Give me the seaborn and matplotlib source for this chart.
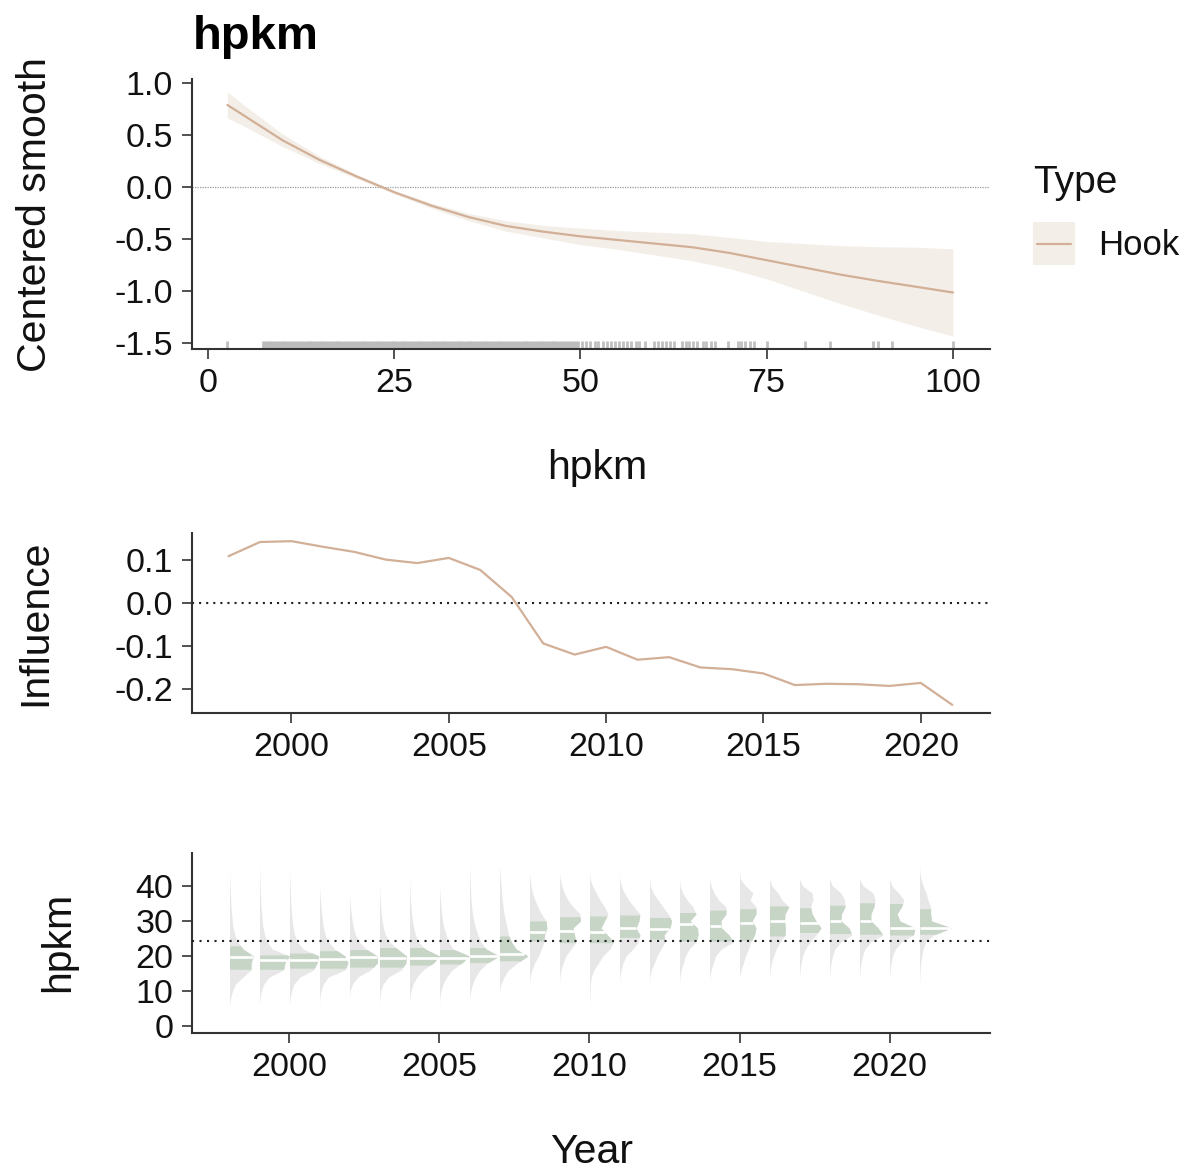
import numpy as np
import pandas as pd
import matplotlib
matplotlib.use("Agg")
import matplotlib.pyplot as plt
from matplotlib.patches import Rectangle
from matplotlib.lines import Line2D
import seaborn as sns

# ---- Partial effect of hpkm (centered smooth with confidence band) ----
smooth_hpkm = [2.6, 5, 10, 15, 20, 25, 30, 35, 40, 45, 50, 55, 60, 65, 70, 75, 80, 85, 90, 95, 100]
smooth_fit = [0.79, 0.68, 0.45, 0.26, 0.10, -0.05, -0.18, -0.29, -0.375, -0.43, -0.475,
              -0.51, -0.545, -0.58, -0.635, -0.705, -0.775, -0.845, -0.905, -0.96, -1.016]
smooth_upper = [0.915, 0.78, 0.51, 0.295, 0.12, -0.035, -0.155, -0.255, -0.325, -0.37, -0.395,
                -0.42, -0.435, -0.45, -0.485, -0.525, -0.545, -0.565, -0.575, -0.58, -0.596]
smooth_lower = [0.665, 0.58, 0.39, 0.225, 0.08, -0.065, -0.205, -0.325, -0.425, -0.49, -0.555,
                -0.60, -0.655, -0.71, -0.785, -0.885, -1.005, -1.125, -1.235, -1.34, -1.436]

# observed hpkm values shown as a rug (dense core and scattered upper values)
rug_dense = [7.5, 8.0, 8.5, 9.0, 9.5, 10.0, 10.5, 11.0, 11.5, 12.0, 12.5, 13.0, 13.5, 14.0,
             14.5, 15.0, 15.5, 16.0, 16.5, 17.0, 17.5, 18.0, 18.5, 19.0, 19.5, 20.0, 20.5,
             21.0, 21.5, 22.0, 22.5, 23.0, 23.5, 24.0, 24.5, 25.0, 25.5, 26.0, 26.5, 27.0,
             27.5, 28.0, 28.5, 29.0, 29.5, 30.0, 30.5, 31.0, 31.5, 32.0, 32.5, 33.0, 33.5,
             34.0, 34.5, 35.0, 35.5, 36.0, 36.5, 37.0, 37.5, 38.0, 38.5, 39.0, 39.5, 40.0,
             40.5, 41.0, 41.5, 42.0, 42.5, 43.0, 43.5, 44.0, 44.5, 45.0, 45.5, 46.0, 46.5,
             47.0, 47.5, 48.0, 48.5, 49.0, 49.5]
rug_sparse = [2.6, 50.2, 50.8, 51.3, 51.9, 52.4, 53.0, 53.5, 54.1, 54.6, 55.2, 55.7, 56.3,
              56.8, 57.4, 57.9, 58.6, 59.9, 60.4, 60.9, 61.5, 62.0, 62.6, 63.6, 64.1, 64.6,
              65.1, 65.6, 66.4, 66.8, 67.5, 68.0, 69.8, 71.2, 71.6, 72.1, 72.8, 73.3, 75.0,
              80.2, 83.5, 89.3, 90.0, 91.8, 100.0]

# ---- Influence of hpkm by year ----
years = list(range(1998, 2022))
influence = [0.110, 0.143, 0.145, 0.132, 0.120, 0.102, 0.094, 0.106, 0.078, 0.015,
             -0.093, -0.119, -0.101, -0.131, -0.125, -0.149, -0.153, -0.163, -0.190,
             -0.187, -0.188, -0.192, -0.185, -0.236]

# ---- Distribution of hpkm by year (half-violin widths, in years) ----
density_hpkm = [6, 8, 10, 12, 14, 16, 18, 20, 22, 24, 26, 28, 30, 32, 34, 36, 38, 40, 42, 44, 46]
density_width = [
    [0, 0.04, 0.10, 0.20, 0.45, 0.72, 0.72, 0.80, 0.45, 0.28, 0.18, 0.12, 0.09, 0.07, 0.05, 0.04, 0.03, 0.02, 0.01, 0, 0],
    [0, 0.02, 0.06, 0.15, 0.33, 0.80, 0.85, 1.00, 0.42, 0.26, 0.17, 0.12, 0.09, 0.07, 0.05, 0.04, 0.03, 0.02, 0.015, 0.01, 0],
    [0, 0.02, 0.07, 0.15, 0.35, 0.80, 0.92, 0.98, 0.45, 0.27, 0.17, 0.12, 0.09, 0.07, 0.05, 0.04, 0.03, 0.02, 0.01, 0, 0],
    [0, 0.01, 0.05, 0.13, 0.30, 0.85, 0.95, 0.85, 0.50, 0.30, 0.19, 0.13, 0.10, 0.07, 0.05, 0.03, 0.01, 0, 0, 0, 0],
    [0, 0, 0.02, 0.10, 0.28, 0.70, 0.93, 0.93, 0.55, 0.32, 0.20, 0.13, 0.09, 0.06, 0.03, 0.01, 0, 0, 0, 0, 0],
    [0, 0.01, 0.04, 0.12, 0.30, 0.72, 0.88, 0.90, 0.60, 0.33, 0.20, 0.13, 0.09, 0.06, 0.04, 0.02, 0.01, 0, 0, 0, 0],
    [0, 0.01, 0.05, 0.12, 0.25, 0.45, 0.80, 1.00, 0.52, 0.30, 0.20, 0.14, 0.10, 0.07, 0.05, 0.03, 0.02, 0.01, 0, 0, 0],
    [0, 0.01, 0.05, 0.12, 0.24, 0.42, 0.75, 1.00, 0.45, 0.30, 0.22, 0.15, 0.10, 0.07, 0.05, 0.03, 0.01, 0, 0, 0, 0],
    [0, 0, 0.04, 0.10, 0.20, 0.35, 0.60, 1.00, 0.55, 0.38, 0.28, 0.20, 0.14, 0.10, 0.07, 0.05, 0.04, 0.03, 0.02, 0.01, 0],
    [0, 0, 0, 0.05, 0.15, 0.30, 0.60, 0.95, 0.55, 0.40, 0.30, 0.25, 0.20, 0.15, 0.12, 0.09, 0.07, 0.05, 0.03, 0.015, 0],
    [0, 0, 0, 0, 0.02, 0.08, 0.17, 0.30, 0.40, 0.48, 0.50, 0.58, 0.55, 0.40, 0.28, 0.18, 0.10, 0.05, 0.02, 0, 0],
    [0, 0, 0, 0, 0.01, 0.05, 0.12, 0.22, 0.38, 0.55, 0.50, 0.45, 0.70, 0.68, 0.45, 0.28, 0.16, 0.08, 0.02, 0, 0],
    [0, 0.01, 0.02, 0.03, 0.06, 0.15, 0.30, 0.45, 0.68, 0.80, 0.60, 0.38, 0.50, 0.62, 0.50, 0.35, 0.22, 0.10, 0.02, 0, 0],
    [0, 0, 0, 0, 0.01, 0.05, 0.12, 0.22, 0.45, 0.62, 0.68, 0.55, 0.65, 0.68, 0.48, 0.30, 0.16, 0.06, 0.01, 0, 0],
    [0, 0, 0, 0, 0.01, 0.06, 0.16, 0.25, 0.38, 0.52, 0.48, 0.68, 0.74, 0.62, 0.45, 0.28, 0.12, 0.03, 0, 0, 0],
    [0, 0, 0, 0, 0.01, 0.06, 0.13, 0.20, 0.32, 0.55, 0.62, 0.60, 0.35, 0.55, 0.45, 0.25, 0.10, 0.02, 0, 0, 0],
    [0, 0, 0, 0, 0.01, 0.05, 0.13, 0.20, 0.40, 0.80, 0.65, 0.40, 0.38, 0.55, 0.55, 0.30, 0.15, 0.05, 0, 0, 0],
    [0, 0, 0, 0, 0, 0.05, 0.13, 0.20, 0.30, 0.38, 0.50, 0.55, 0.42, 0.55, 0.55, 0.35, 0.45, 0.20, 0.03, 0, 0],
    [0, 0, 0, 0, 0, 0.02, 0.06, 0.14, 0.22, 0.36, 0.52, 0.53, 0.50, 0.52, 0.64, 0.42, 0.28, 0.08, 0, 0, 0],
    [0, 0, 0, 0, 0, 0.02, 0.05, 0.10, 0.20, 0.35, 0.55, 0.72, 0.55, 0.42, 0.37, 0.45, 0.42, 0.10, 0, 0, 0],
    [0, 0, 0, 0, 0, 0.02, 0.05, 0.10, 0.18, 0.38, 0.75, 0.65, 0.38, 0.40, 0.52, 0.50, 0.38, 0.10, 0, 0, 0],
    [0, 0, 0, 0, 0, 0.02, 0.05, 0.10, 0.18, 0.38, 0.78, 0.62, 0.38, 0.38, 0.48, 0.52, 0.45, 0.12, 0, 0, 0],
    [0, 0, 0, 0, 0, 0.02, 0.05, 0.10, 0.20, 0.40, 0.80, 0.85, 0.35, 0.25, 0.40, 0.48, 0.30, 0.08, 0, 0, 0],
    [0, 0, 0, 0, 0.01, 0.02, 0.04, 0.08, 0.12, 0.20, 0.48, 1.08, 0.40, 0.37, 0.37, 0.28, 0.22, 0.12, 0.05, 0.01, 0],
]
hpkm_q1 = [16.2, 16.2, 16.5, 16.5, 16.8, 16.8, 17.4, 17.7, 18.1, 18.6, 24.3, 23.8,
           23.8, 25.3, 24.8, 24.3, 24.3, 24.5, 25.7, 26.7, 26.4, 26.2, 26.0, 26.2]
hpkm_median = [19.7, 18.8, 18.9, 19.0, 19.7, 19.5, 19.5, 19.5, 20.0, 20.7, 26.7, 27.1,
               26.9, 28.1, 27.8, 29.1, 28.6, 29.5, 30.0, 29.3, 30.0, 30.0, 27.9, 27.9]
hpkm_q3 = [22.9, 20.3, 20.8, 21.5, 21.8, 22.4, 22.4, 21.8, 22.4, 25.7, 30.0, 31.2,
           31.4, 31.7, 31.0, 32.4, 33.1, 33.5, 34.3, 33.8, 34.5, 35.2, 35.0, 33.5]
hpkm_mean = 24.3

# ---- styling ----
sns.set_theme(style="ticks")
plt.rcParams["font.family"] = ["Liberation Sans", "DejaVu Sans"]

LINE = "#D2AF97"
BAND = "#F4EEE8"
GREY_DIST = "#E7E7E7"
GREEN_IQR = "#C7D5C6"
AXIS = "#333333"

W, H = 1187, 1172
fig = plt.figure(figsize=(W / 100, H / 100), dpi=100)


def px_axes(left, top, right, bottom):
    return fig.add_axes([left / W, 1 - bottom / H, (right - left) / W, (bottom - top) / H])


def style_axes(ax):
    sns.despine(ax=ax)
    for s in ("left", "bottom"):
        ax.spines[s].set_linewidth(1.5)
        ax.spines[s].set_color(AXIS)
    ax.tick_params(length=7.5, width=1.2, color=AXIS, labelsize=24.5,
                   labelcolor="#111111", pad=6)
    ax.set_xlabel("")
    ax.set_ylabel("")
    ax.grid(False)


ax1 = px_axes(192, 79, 990, 349)
ax2 = px_axes(192, 533, 990, 713)
ax3 = px_axes(192, 853, 990, 1033)

# top panel: smooth
smooth_df = pd.DataFrame({"hpkm": smooth_hpkm, "fit": smooth_fit,
                          "lower": smooth_lower, "upper": smooth_upper})
ax1.fill_between(smooth_df["hpkm"], smooth_df["lower"], smooth_df["upper"],
                 color=BAND, linewidth=0, zorder=1)
ax1.axhline(0, color="#9a9a9a", linewidth=0.9, linestyle=(0, (1, 1)), zorder=2)
sns.lineplot(data=smooth_df, x="hpkm", y="fit", ax=ax1, color=LINE, linewidth=1.6, zorder=3)
sns.rugplot(x=rug_dense, ax=ax1, height=0.03, color="#bcbcbc", linewidth=3.3,
            expand_margins=False)
sns.rugplot(x=rug_sparse, ax=ax1, height=0.03, color="#c0c0c0", linewidth=2.0,
            expand_margins=False)
ax1.set_xlim(-2.15, 104.97)
ax1.set_ylim(-1.56, 1.04)
ax1.set_xticks([0, 25, 50, 75, 100])
ax1.set_yticks([1.0, 0.5, 0.0, -0.5, -1.0, -1.5])
ax1.set_yticklabels(["1.0", "0.5", "0.0", "-0.5", "-1.0", "-1.5"])
style_axes(ax1)

# middle panel: influence
infl_df = pd.DataFrame({"Year": years, "Influence": influence})
ax2.axhline(0, color="#222222", linewidth=1.5, linestyle=(0, (1, 2.4)), zorder=1)
sns.lineplot(data=infl_df, x="Year", y="Influence", ax=ax2, color=LINE, linewidth=1.6, zorder=2)
ax2.set_xlim(1996.84, 2022.2)
ax2.set_ylim(-0.255, 0.164)
ax2.set_xticks([2000, 2005, 2010, 2015, 2020])
ax2.set_yticks([0.1, 0.0, -0.1, -0.2])
ax2.set_yticklabels(["0.1", "0.0", "-0.1", "-0.2"])
style_axes(ax2)

# bottom panel: half violins of hpkm per year with shaded interquartile range
grid = np.array(density_hpkm, dtype=float)
for i, yr in enumerate(years):
    w = np.array(density_width[i], dtype=float)
    ax3.fill_betweenx(grid, yr, yr + w, color=GREY_DIST, linewidth=0, zorder=1)
    q1, q3, med = hpkm_q1[i], hpkm_q3[i], hpkm_median[i]
    inside = grid[(grid > q1) & (grid < q3)]
    yy = np.concatenate([[q1], inside, [q3]])
    ww = np.interp(yy, grid, w)
    ax3.fill_betweenx(yy, yr, yr + ww, color=GREEN_IQR, linewidth=0, zorder=2)
    wm = np.interp(med, grid, w)
    ax3.plot([yr, yr + wm], [med, med], color="white", linewidth=1.9,
             solid_capstyle="butt", zorder=3)
ax3.axhline(hpkm_mean, color="#222222", linewidth=1.5, linestyle=(0, (1, 2.6)), zorder=4)
ax3.set_xlim(1996.75, 2023.35)
ax3.set_ylim(-2.0, 49.4)
ax3.set_xticks([2000, 2005, 2010, 2015, 2020])
ax3.set_yticks([0, 10, 20, 30, 40])
style_axes(ax3)

# titles and axis labels
fig.text(193 / W, 1 - 49 / H, "hpkm", fontsize=34, fontweight="bold",
         ha="left", va="baseline", color="black")
fig.text(35 / W, 1 - 215 / H, "Centered smooth", rotation=90, fontsize=29.5,
         ha="center", va="center", color="#111111")
fig.text(35 / W, 1 - 623 / H, "Influence", rotation=90, fontsize=29.5,
         ha="center", va="center", color="#111111")
fig.text(58 / W, 1 - 942 / H, "hpkm", rotation=90, fontsize=29.5,
         ha="center", va="center", color="#111111")
fig.text(597 / W, 1 - 468 / H, "hpkm", fontsize=29.5, ha="center", va="center",
         color="#111111")
fig.text(592 / W, 1 - 1152 / H, "Year", fontsize=29.5, ha="center", va="center",
         color="#111111")

# legend
fig.text(1033 / W, 1 - 183 / H, "Type", fontsize=28, ha="left", va="center", color="#111111")
fig.add_artist(Rectangle((1033 / W, 1 - 265 / H), 42 / W, 43 / H,
                         transform=fig.transFigure, facecolor=BAND, edgecolor="none"))
fig.add_artist(Line2D([1037 / W, 1071 / W], [1 - 243.5 / H, 1 - 243.5 / H],
                      transform=fig.transFigure, color=LINE, linewidth=1.6))
fig.text(1098 / W, 1 - 245 / H, "Hook", fontsize=25, ha="left", va="center", color="#111111")

fig.savefig("out.png", dpi=100, facecolor="white")
